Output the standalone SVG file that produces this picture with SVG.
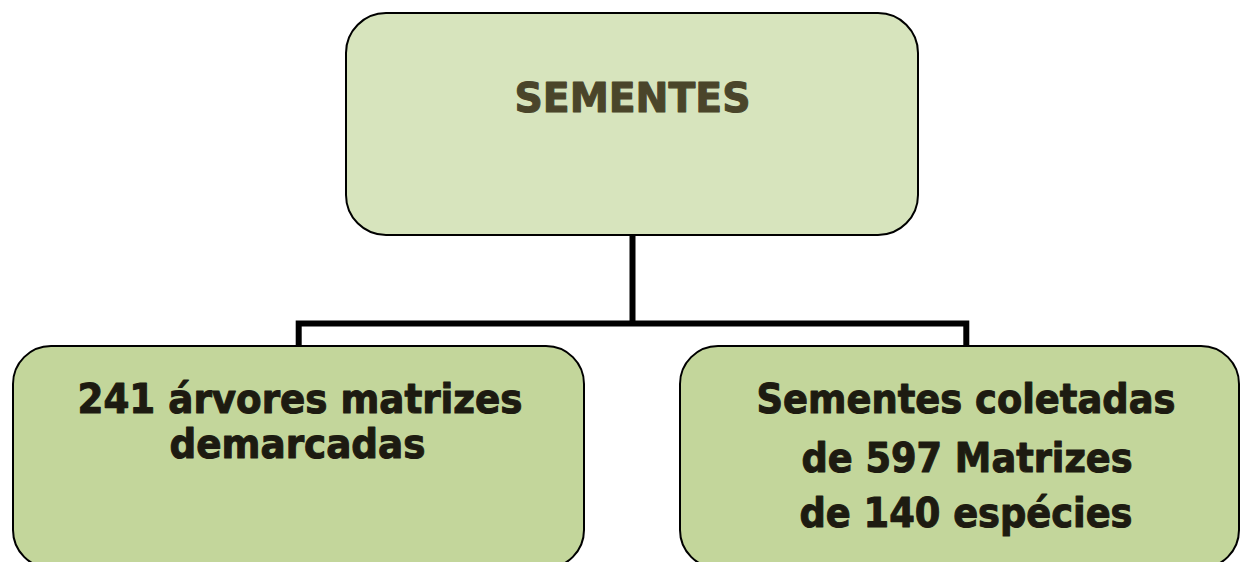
<svg xmlns="http://www.w3.org/2000/svg" width="1242" height="562" viewBox="0 0 1242 562">
<style>
.box{stroke:#000;stroke-width:2}
.top{fill:#D7E4BD}
.bot{fill:#C3D69B}
.t{font-family:"DejaVu Sans",Verdana,sans-serif;font-weight:bold;font-size:41px;text-anchor:middle;stroke-width:1.1;stroke-linejoin:round}
.tt{fill:#4A452A;stroke:#4A452A}
.bt{fill:#1D1B11;stroke:#1D1B11}
.conn{fill:none;stroke:#000;stroke-width:6;stroke-linejoin:miter;stroke-linecap:butt}
</style>
<rect width="1242" height="562" fill="#fff"/>
<g id="connectors">
<path class="conn" d="M632.5 235 V323.5 M298.7 346 V323.5 H966.3 V346"/>
</g>
<g id="node-sementes">
<rect class="box top" x="346" y="13" width="572" height="222" rx="40" ry="40"/>
<text class="t tt" x="632.5" y="112" textLength="236" lengthAdjust="spacingAndGlyphs">SEMENTES</text>
</g>
<g id="node-arvores">
<rect class="box bot" x="13" y="346" width="571" height="222" rx="38" ry="38"/>
<text class="t bt" x="300" y="413" textLength="445" lengthAdjust="spacingAndGlyphs">241 árvores matrizes</text>
<text class="t bt" x="297.5" y="458" textLength="256" lengthAdjust="spacingAndGlyphs">demarcadas</text>
</g>
<g id="node-coletadas">
<rect class="box bot" x="680" y="346" width="559" height="222" rx="38" ry="38"/>
<text class="t bt" x="966" y="413" textLength="419" lengthAdjust="spacingAndGlyphs">Sementes coletadas</text>
<text class="t bt" x="967" y="472" textLength="331" lengthAdjust="spacingAndGlyphs">de 597 Matrizes</text>
<text class="t bt" x="966" y="527" textLength="333" lengthAdjust="spacingAndGlyphs">de 140 espécies</text>
</g>
</svg>
